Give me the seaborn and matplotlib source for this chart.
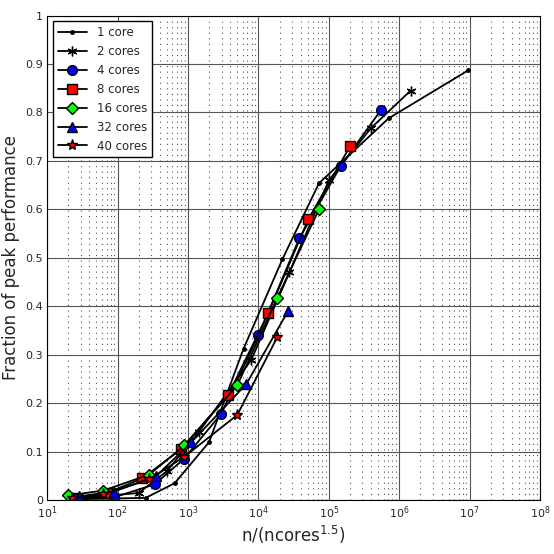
import matplotlib
matplotlib.use("Agg")
import matplotlib.pyplot as plt
import seaborn as sns
import numpy as np

sns.set_style("white")

# log10(n/ncores^1.5) and fraction of peak
x1 = [1.4, 2.4, 2.81, 3.3, 3.79, 4.34, 4.86, 5.85, 6.98]
y1 = [0.002, 0.005, 0.035, 0.12, 0.313, 0.497, 0.654, 0.788, 0.887]
x2 = [1.5, 2.3, 2.7, 3.15, 3.9, 4.44, 5.0, 5.6, 6.16]
y2 = [0.005, 0.015, 0.06, 0.14, 0.29, 0.47, 0.66, 0.768, 0.845]
x4 = [1.45, 1.95, 2.53, 2.94, 3.47, 4.0, 4.58, 5.17, 5.74]
y4 = [0.004, 0.006, 0.033, 0.085, 0.178, 0.34, 0.54, 0.69, 0.805]
x8 = [1.4, 1.85, 2.35, 2.9, 3.57, 4.14, 4.71, 5.3]
y8 = [0.004, 0.015, 0.045, 0.105, 0.217, 0.386, 0.58, 0.73]
x16 = [1.3, 1.8, 2.45, 2.95, 3.7, 4.27, 4.86]
y16 = [0.01, 0.02, 0.053, 0.113, 0.237, 0.418, 0.6]
x32 = [1.45, 1.95, 2.55, 3.05, 3.83, 4.42]
y32 = [0.008, 0.018, 0.05, 0.12, 0.24, 0.39]
x40 = [1.35, 1.8, 2.45, 2.95, 3.7, 4.27]
y40 = [0.004, 0.012, 0.043, 0.09, 0.176, 0.337]

series = [
    ("1 core", x1, y1, ".", "black", 5),
    ("2 cores", x2, y2, (6, 2, 0), "black", 7),
    ("4 cores", x4, y4, "o", "blue", 7),
    ("8 cores", x8, y8, "s", "red", 7),
    ("16 cores", x16, y16, "D", "#00ff00", 6),
    ("32 cores", x32, y32, "^", "blue", 7),
    ("40 cores", x40, y40, "*", "red", 8),
]

fig, ax = plt.subplots(figsize=(5.54, 5.54), dpi=100)
for label, xs, ys, m, c, ms in series:
    sns.lineplot(x=10 ** np.array(xs), y=ys, ax=ax, color="black", lw=1.3,
                 marker=m, markersize=ms, markerfacecolor=c, markeredgecolor="black",
                 markeredgewidth=1, label=label, sort=False)

ax.set_xscale("log")
ax.set_xlim(10, 1e8)
ax.set_ylim(0, 1)
ax.set_yticks(np.arange(0, 1.01, 0.1))
ax.set_yticklabels(["0"] + [f"{v:.1f}" for v in np.arange(0.1, 0.95, 0.1)] + ["1"])
ax.grid(True, which="major", color="#555555", lw=0.8)
ax.grid(True, which="minor", color="#555555", lw=0.8, ls=(0, (1, 4)))
for s in ax.spines.values():
    s.set_color("black")
ax.tick_params(labelsize=8, direction="in", which="both", pad=3)
ax.set_xlabel("n/(ncores$^{1.5}$)", fontsize=12, labelpad=2)
ax.set_ylabel("Fraction of peak performance", fontsize=12, labelpad=4)
leg = ax.legend(loc="upper left", fontsize=8.5, frameon=True, fancybox=False,
                edgecolor="black", framealpha=1, handlelength=2.5)
fig.subplots_adjust(left=0.085, right=0.975, top=0.972, bottom=0.097)
fig.savefig("out.png", dpi=100)
